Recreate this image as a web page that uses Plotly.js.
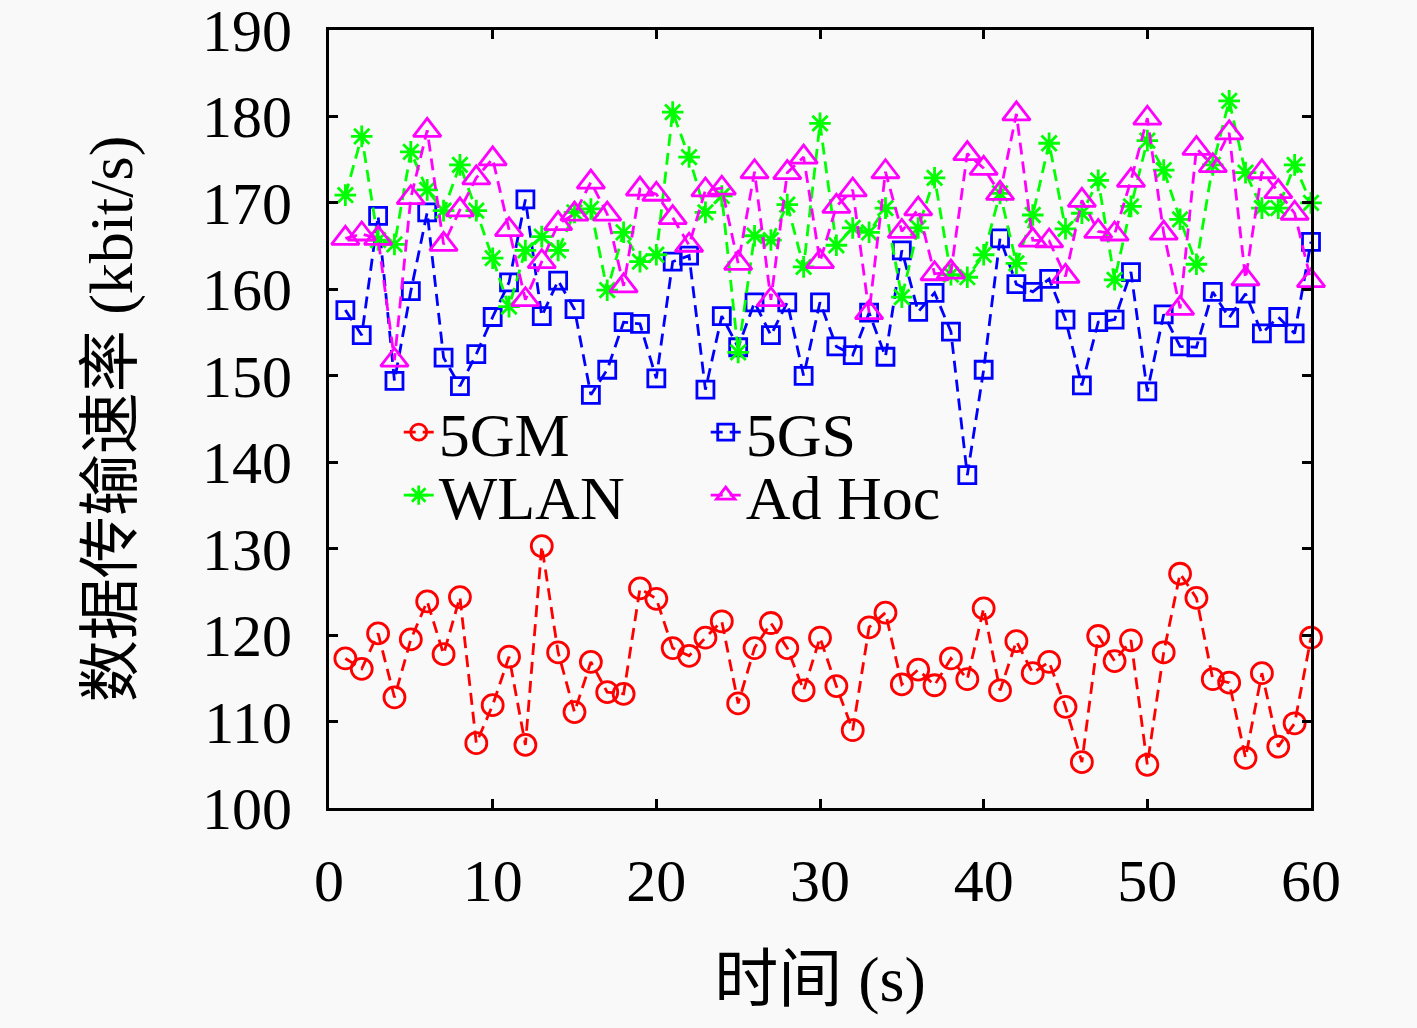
<!DOCTYPE html>
<html>
<head>
<meta charset="utf-8">
<script src="https://cdn.plot.ly/plotly-3.0.1.min.js"></script>
<style>
  html, body { margin: 0; padding: 0; background: #f9f9f9; }
  #chart { width: 1417px; height: 1028px; }
</style>
</head>
<body>
<div id="chart"></div>
<script>
// time axis (s)
const seconds = Array.from({ length: 60 }, (_, i) => i + 1);

// transfer rate per network, kbit/s
const rate5GM = [
    117.3, 116.1, 120.2, 112.8, 119.5, 123.9, 117.8, 124.4, 107.5, 111.9,
    117.5, 107.3, 130.3, 118.0, 111.1, 116.9, 113.4, 113.2, 125.4, 124.2,
    118.5, 117.6, 119.7, 121.6, 112.1, 118.5, 121.4, 118.5, 113.6, 119.7,
    114.1, 109.0, 120.9, 122.6, 114.3, 116.0, 114.2, 117.3, 114.9, 123.1,
    113.6, 119.3, 115.6, 116.9, 111.7, 105.3, 119.9, 117.0, 119.4, 105.0,
    118.0, 127.1, 124.3, 114.9, 114.5, 105.8, 115.6, 107.1, 109.8, 119.7
];
const rate5GS = [
    157.6, 154.7, 168.5, 149.4, 159.8, 168.9, 152.1, 148.8, 152.5, 156.8,
    160.8, 170.4, 156.9, 161.0, 157.7, 147.8, 150.7, 156.2, 156.0, 149.7,
    163.2, 163.9, 148.4, 156.9, 153.3, 158.5, 154.7, 158.5, 150.0, 158.5,
    153.4, 152.4, 157.3, 152.2, 164.5, 157.4, 159.6, 155.1, 138.5, 150.7,
    165.9, 160.6, 159.7, 161.2, 156.5, 148.9, 156.2, 156.5, 162.0, 148.2,
    157.1, 153.4, 153.3, 159.7, 156.7, 159.5, 154.9, 156.8, 154.9, 165.5
];
const rateWLAN = [
    170.9, 177.7, 165.7, 165.2, 175.9, 171.5, 169.1, 174.4, 169.1, 163.6,
    158.0, 164.5, 166.1, 164.5, 168.9, 169.3, 159.9, 166.6, 163.2, 164.0,
    180.5, 175.3, 168.9, 170.8, 152.7, 166.2, 165.7, 169.8, 162.6, 179.2,
    165.1, 167.1, 166.6, 169.4, 159.1, 167.1, 172.9, 161.7, 161.4, 164.0,
    171.1, 163.0, 168.6, 176.9, 167.0, 168.8, 172.6, 161.1, 169.6, 177.2,
    173.8, 168.1, 162.9, 174.4, 181.8, 173.5, 169.4, 169.4, 174.4, 170.0
];
const rateAdHoc = [
    165.9, 166.4, 165.9, 151.8, 170.6, 178.4, 165.2, 169.2, 172.9, 175.1,
    166.9, 158.8, 163.2, 167.6, 168.7, 172.4, 168.7, 160.4, 171.6, 171.0,
    168.3, 165.1, 171.5, 171.7, 163.0, 173.6, 158.8, 173.5, 175.3, 163.2,
    169.6, 171.5, 157.3, 173.6, 166.7, 169.3, 161.8, 162.0, 175.7, 174.0,
    171.1, 180.3, 165.7, 165.6, 161.5, 170.3, 166.7, 166.4, 172.6, 179.8,
    166.5, 157.8, 176.3, 174.3, 178.1, 161.2, 173.6, 171.3, 168.8, 161.0
];

const xTicks = [0, 10, 20, 30, 40, 50, 60];
const yTicks = [100, 110, 120, 130, 140, 150, 160, 170, 180, 190];

const FONT = '"Liberation Serif", "Noto Sans CJK SC", serif';
const DASH = '12px,7px';

function series(name, y, color, symbol, size, legend) {
    return {
        x: seconds, y: y, name: name, legend: legend,
        type: 'scatter', mode: 'lines+markers', cliponaxis: false,
        line: { color: color, width: 2.8, dash: DASH },
        marker: { symbol: symbol, size: size, color: color, line: { color: color, width: 2.8 } },
    };
}

const traces = [
    series('5GM', rate5GM, '#ff0000', 'circle-open', 21, 'legend'),
    series('5GS', rate5GS, '#0000ff', 'square-open', 17, 'legend'),
    series('WLAN', rateWLAN, '#00ff00', 'asterisk-open', 18, 'legend2'),
    series('Ad Hoc', rateAdHoc, '#ff00ff', 'triangle-up-open', 24, 'legend2'),
];

const axisCommon = {
    showgrid: false, zeroline: false,
    showline: true, linecolor: '#000', linewidth: 3, mirror: 'allticks',
    ticks: 'inside', ticklen: 9, tickwidth: 3, tickcolor: '#000',
    ticklabeloverflow: 'allow',
    tickfont: { family: FONT, size: 60, color: '#000' },
};

const legendCommon = {
    orientation: 'h', xanchor: 'left', yanchor: 'middle',
    bgcolor: 'rgba(0,0,0,0)', borderwidth: 0,
    entrywidth: 262, entrywidthmode: 'pixels',
    font: { family: FONT, size: 62, color: '#000' },
};

const layout = {
    width: 1417, height: 1028,
    paper_bgcolor: '#f9f9f9', plot_bgcolor: '#f9f9f9',
    margin: { l: 329, r: 106, t: 30, b: 220 },
    showlegend: true,
    legend: Object.assign({}, legendCommon, { x: 0.071, y: 0.483 }),
    legend2: Object.assign({}, legendCommon, { x: 0.071, y: 0.402 }),
    xaxis: Object.assign({}, axisCommon, {
        range: [0, 60], tickvals: xTicks, ticklabelstandoff: 18,
        title: { text: '时间 (s)', font: { family: FONT, size: 64, color: '#000' }, standoff: 44 },
    }),
    yaxis: Object.assign({}, axisCommon, {
        range: [100, 190], tickvals: yTicks, ticklabelstandoff: 22,
        title: { text: '数据传输速率 (kbit/s)', font: { family: FONT, size: 62, color: '#000' }, standoff: 50 },
    }),
};

Plotly.newPlot('chart', traces, layout, { displayModeBar: false, staticPlot: true });
</script>
</body>
</html>
